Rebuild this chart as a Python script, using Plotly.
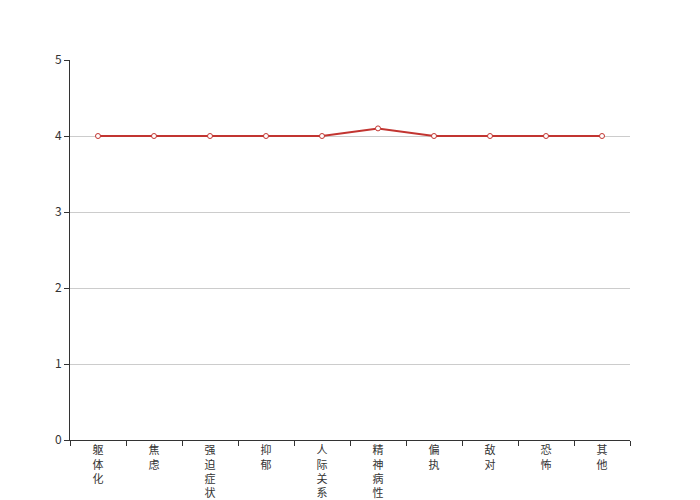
import plotly.graph_objects as go

categories = ["躯体化", "焦虑", "强迫症状", "抑郁", "人际关系", "精神病性", "偏执", "敌对", "恐怖", "其他"]
values = [4, 4, 4, 4, 4, 4.1, 4, 4, 4, 4]
y_ticks = [0, 1, 2, 3, 4, 5]

tick_text = ["<br>".join(list(c)) for c in categories]

fig = go.Figure()
fig.add_trace(go.Scatter(
    x=categories, y=values, mode="lines+markers",
    line=dict(color="#c23531", width=2),
    marker=dict(symbol="circle", size=5, color="white", line=dict(color="#c23531", width=1)),
    showlegend=False, hoverinfo="x+y",
))

fig.update_layout(
    width=700, height=500,
    margin=dict(l=62, r=78, t=52, b=68, autoexpand=False),
    paper_bgcolor="white", plot_bgcolor="white",
    font=dict(family="Noto Sans CJK SC, sans-serif", size=12, color="#333"),
    xaxis=dict(
        type="category", tickson="boundaries",
        tickmode="array", tickvals=categories, ticktext=tick_text,
        showline=True, linecolor="#333", linewidth=1,
        ticks="outside", ticklen=5, tickcolor="#333",
        showgrid=False, zeroline=False, automargin=False,
        tickfont=dict(size=11, color="#333"),
        range=[-0.5, 9.5],
    ),
    yaxis=dict(
        range=[0, 5], tickvals=y_ticks,
        showline=True, linecolor="#333", linewidth=1,
        ticks="outside", ticklen=5, tickcolor="#333",
        showgrid=True, gridcolor="#ccc", gridwidth=1,
        zeroline=False, automargin=False,
        tickfont=dict(size=12, color="#333"),
    ),
)

fig.write_html("out.html")
